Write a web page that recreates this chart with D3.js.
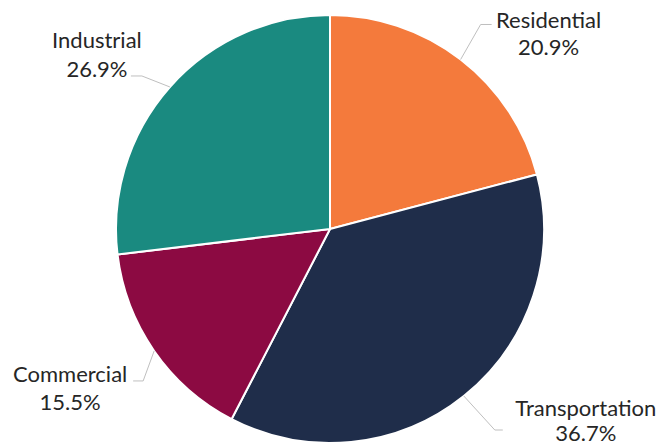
<!DOCTYPE html>
<html>
<head>
<meta charset="utf-8">
<script src="https://cdn.jsdelivr.net/npm/d3@7"></script>
<style>
  html, body { margin: 0; padding: 0; background: #fff; }
  svg { display: block; }
</style>
</head>
<body>
<svg id="chart" width="671" height="446"></svg>
<script>
// sectors, clockwise from 12 o'clock
const sectors = ['Residential', 'Transportation', 'Commercial', 'Industrial'];
const shares = [20.9, 36.7, 15.5, 26.9];
const sectorColors = ['#f47a3c', '#1f2d4a', '#8c0a42', '#1a8a80'];

const width = 671, height = 446;
const cx = 330, cy = 229, radius = 214;

// elbow of leader line relative to slice edge point, horizontal tail, text placement
const elbow = [[20, -35], [31, 34], [-11, 30], [-28, -11]];
const tail = [11, 8, -10, -11];
const textAt = [[57, 3, 30], [83, -14, 11], [-63, 1, 29], [-34, -28, 1]];

const svg = d3.select('#chart');
const g = svg.append('g').attr('transform', `translate(${cx},${cy})`);

const data = sectors.map((name, i) => ({name, value: shares[i], i}));

const pie = d3.pie()
  .sort(null)
  .value(d => d.value);

const arc = d3.arc().innerRadius(0).outerRadius(radius);
const edgeArc = d3.arc().innerRadius(radius).outerRadius(radius);

const arcs = pie(data);

g.append('g')
  .selectAll('path')
  .data(arcs)
  .join('path')
  .attr('d', arc)
  .attr('fill', d => sectorColors[d.data.i])
  .attr('stroke', '#fff')
  .attr('stroke-width', 2)
  .attr('stroke-linejoin', 'round');

// leader lines
g.append('g')
  .selectAll('polyline')
  .data(arcs)
  .join('polyline')
  .attr('fill', 'none')
  .attr('stroke', '#bfbfbf')
  .attr('stroke-width', 1)
  .attr('points', d => {
    const i = d.data.i;
    const p = edgeArc.centroid(d);
    const e = [p[0] + elbow[i][0], p[1] + elbow[i][1]];
    const t = [e[0] + tail[i], e[1]];
    return [p, e, t].map(q => q.join(',')).join(' ');
  });

// labels
g.append('g')
  .selectAll('text')
  .data(arcs)
  .join('text')
  .attr('text-anchor', 'middle')
  .style('font-family', 'Lato, "Open Sans", sans-serif')
  .style('font-size', '22px')
  .attr('fill', '#262626')
  .each(function (d) {
    const i = d.data.i;
    const p = edgeArc.centroid(d);
    const x = p[0] + elbow[i][0] + tail[i] + textAt[i][0];
    const y = p[1] + elbow[i][1];
    const t = d3.select(this);
    t.append('tspan').attr('x', x).attr('y', y + textAt[i][1]).text(d.data.name);
    t.append('tspan').attr('x', x).attr('y', y + textAt[i][2]).text(d.data.value.toFixed(1) + '%');
  });
</script>
</body>
</html>
